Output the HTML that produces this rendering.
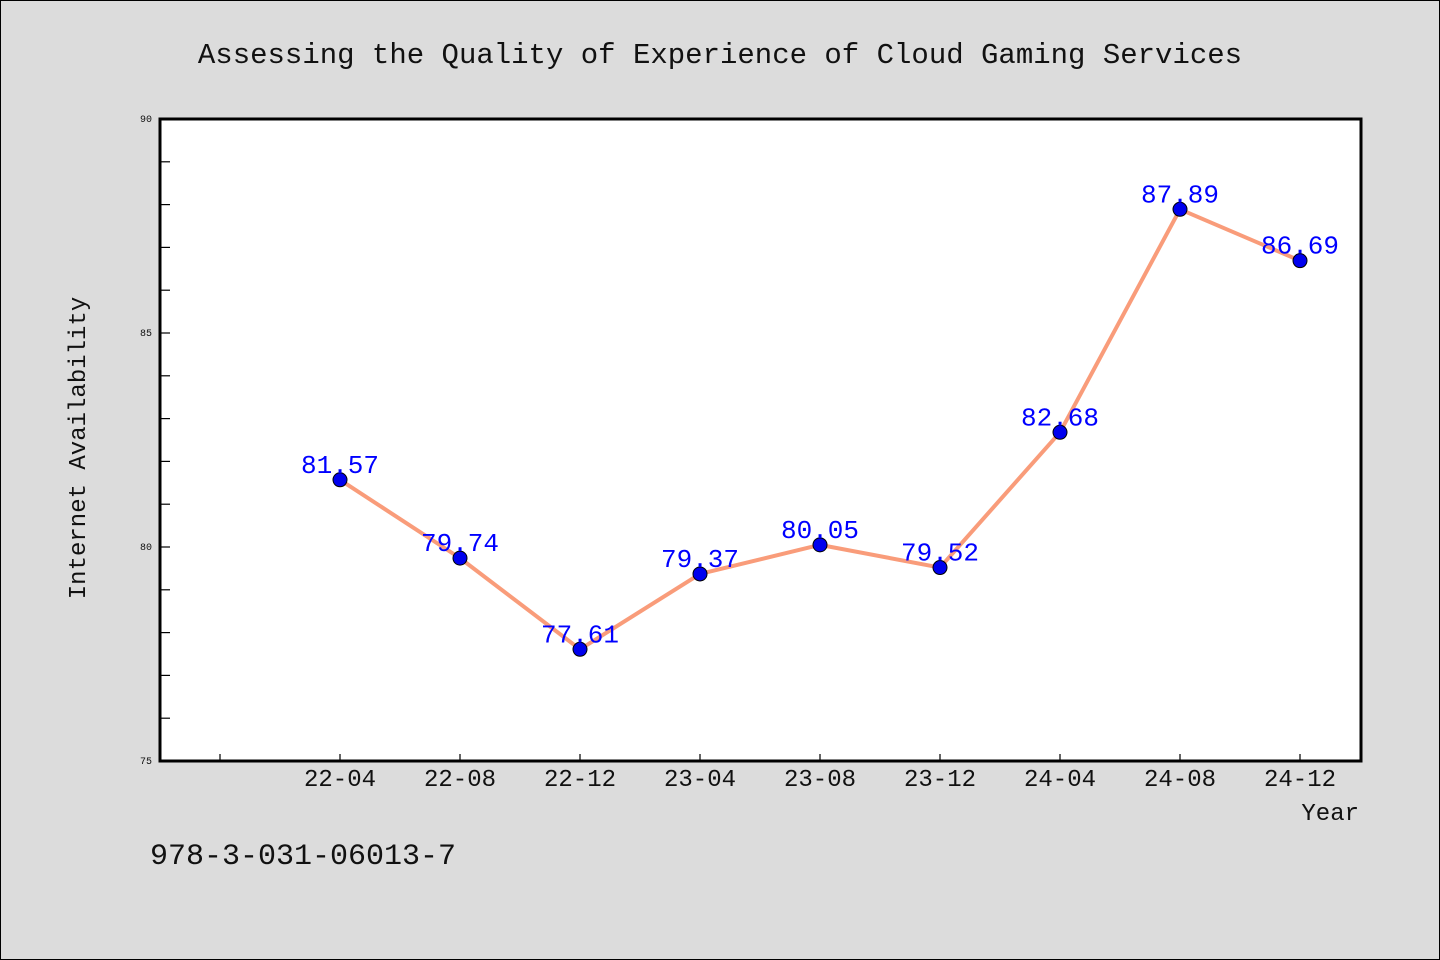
<!DOCTYPE html>
<html><head><meta charset="utf-8"><style>
html,body{margin:0;padding:0;background:#dcdcdc;}
svg{display:block;font-family:"Liberation Mono","DejaVu Sans Mono",monospace;}
</style></head><body>
<svg id="chart" width="1440" height="960" viewBox="0 0 1440 960">
<rect x="0.5" y="0.5" width="1439" height="959" fill="#dcdcdc" stroke="#000" stroke-width="1"/>
<text x="720" y="63" text-anchor="middle" font-size="29" fill="#111">Assessing the Quality of Experience of Cloud Gaming Services</text>
<rect x="160" y="119" width="1201" height="642" fill="#fff"/>
<g id="axes"></g>
<g id="series"></g>
<rect x="160" y="119" width="1201" height="642" fill="none" stroke="#000" stroke-width="3"/>
<text transform="translate(85,448) rotate(-90)" text-anchor="middle" font-size="24" fill="#111">Internet Availability</text>
<text x="1359" y="820" text-anchor="end" font-size="24" fill="#111">Year</text>
<text x="150" y="864" font-size="30" fill="#111">978-3-031-06013-7</text>
</svg>
<script>
const categories = ["22-04","22-08","22-12","23-04","23-08","23-12","24-04","24-08","24-12"];
const values = [81.57,79.74,77.61,79.37,80.05,79.52,82.68,87.89,86.69];
const yTickLabels = [75,80,85,90];
const yMin = 75, yMax = 90;
const NS = "http://www.w3.org/2000/svg";
function y(v){ return 761 - (v - yMin) / (yMax - yMin) * 642; }
function x(i){ return 340 + 120 * i; }
function mk(tag, attrs, parent){ const e=document.createElementNS(NS,tag); for(const k in attrs) e.setAttribute(k,attrs[k]); parent.appendChild(e); return e; }
const axes=document.getElementById('axes'), series=document.getElementById('series');
for(let v=yMin; v<=yMax; v++){
  const t=mk('line',{x1:160,x2:170,y1:y(v),y2:y(v),stroke:'#000','stroke-width':1.2},axes);
  
  
}
yTickLabels.forEach(v=>{
  const t=mk('text',{x:152,y:y(v)+3,'text-anchor':'end','font-size':10,fill:'#111'},axes);
  t.textContent=v;
  
  
});
for(let i=-1;i<categories.length;i++){
  const t=mk('line',{x1:x(i),x2:x(i),y1:761,y2:754,stroke:'#000','stroke-width':1.2},axes);
  
  
}
categories.forEach((c,i)=>{
  const t=mk('text',{x:x(i),y:786,'text-anchor':'middle','font-size':24,fill:'#111'},axes);
  t.textContent=c;
  
  
});
const line=mk('polyline',{points:values.map((v,i)=>x(i)+','+y(v)).join(' '),fill:'none',stroke:'#f99c7a','stroke-width':4,'stroke-linejoin':'round'},series);


values.forEach((v,i)=>{
  const p=mk('circle',{cx:x(i),cy:y(v),r:7,fill:'#0000ee',stroke:'#000','stroke-width':1},series);
  
  
});
values.forEach((v,i)=>{
  const t=mk('text',{x:x(i),y:y(v)-7,'text-anchor':'middle','font-size':26,fill:'#0000ff'},series);
  t.textContent=v.toFixed(2);
  
  
});
</script>
</body></html>
